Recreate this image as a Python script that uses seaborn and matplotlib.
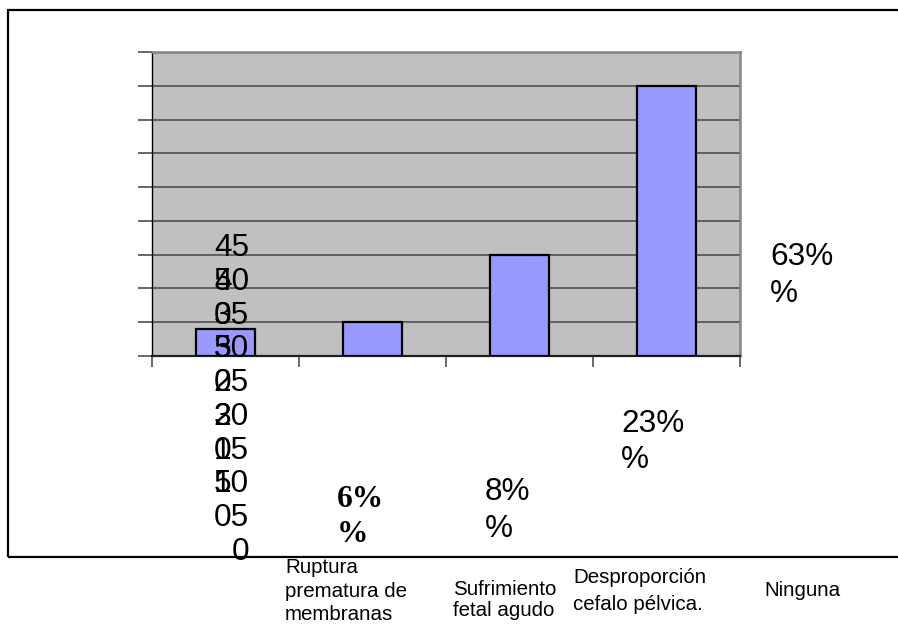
import matplotlib
matplotlib.use("Agg")
import matplotlib.pyplot as plt
from matplotlib.patches import Rectangle
from matplotlib.transforms import offset_copy
import seaborn as sns
import pandas as pd

# Data
categories = ["Ruptura prematura de membranas", "Sufrimiento fetal agudo",
              "Desproporción cefalo pélvica.", "Ninguna"]
category_lines = [["Ruptura", "prematura de", "membranas"],
                  ["Sufrimiento", "fetal agudo"],
                  ["Desproporción", "cefalo pélvica."],
                  ["Ninguna"]]
values = [4, 5, 15, 40]
pct_labels = ["6%", "8%", "23%", "63%"]
tick_values = [0, 5, 10, 15, 20, 25, 30, 35, 40, 45]
tick_labels = ["0", "05", "10", "15", "20", "25", "30", "35", "40", "45"]
tick_ghosts = ["", "", "5", "0", "3", "0", "5", "0", "5", ""]

sns.set_theme(style="white")
plt.rcParams["font.family"] = ["Liberation Sans", "DejaVu Sans"]

W, H = 898, 625
fig = plt.figure(figsize=(W / 100, H / 100), dpi=100)
fig.patch.set_facecolor("white")


def fx(px):
    return px / W


def fy(py):
    return 1 - py / H


ax = fig.add_axes([fx(152), fy(356), fx(740) - fx(152), fy(52) - fy(356)])
ax.set_facecolor("#C0C0C0")

df = pd.DataFrame({"cat": categories, "val": values})
sns.barplot(data=df, x="cat", y="val", color="#9999FF", saturation=1,
            edgecolor="black", linewidth=1.6, width=0.4, ax=ax, zorder=3)

ax.set_xlim(-0.5, len(categories) - 0.5)
ax.set_ylim(0, 45)
ax.set_xlabel("")
ax.set_ylabel("")
ax.set_yticks(tick_values)
ax.set_yticklabels([""] * len(tick_values))
ax.set_xticks([i - 0.5 for i in range(len(categories) + 1)])
ax.set_xticklabels([""] * (len(categories) + 1))
ax.tick_params(axis="y", direction="out", length=10, width=1.1,
               color="#404040", left=True)
ax.tick_params(axis="x", direction="out", length=8, width=1.1,
               color="#404040", bottom=True)
for v in tick_values[1:-1]:
    ax.axhline(v, color="#585858", linewidth=1.3, zorder=1)

for side in ["top", "right"]:
    ax.spines[side].set_color("#858585")
    ax.spines[side].set_linewidth(1.8)
ax.spines["left"].set_color("black")
ax.spines["left"].set_linewidth(1.0)
ax.spines["bottom"].set_color("#202020")
ax.spines["bottom"].set_linewidth(1.6)

# Value-axis numbers, drawn as a displaced column
label_fs = 22.7
base = offset_copy(ax.transData, fig=fig, x=0, y=-204, units="dots")
for v, lab, ghost in zip(tick_values, tick_labels, tick_ghosts):
    y_disp = ax.transData.transform((0, v))[1] - 204
    yfrac = y_disp / H
    fig.text(fx(249), yfrac, lab, ha="right", va="baseline",
             fontsize=label_fs, color="black", zorder=6)
    if ghost:
        fig.text(fx(231), yfrac, ghost, ha="right", va="baseline",
                 fontsize=label_fs, color="black", zorder=6)

# Percentage labels (two lines each)
pct_pos = [(337, 507, 542), (485, 500, 537), (621, 432, 468), (770, 265, 302)]
for i, (lab, (x0, b1, b2)) in enumerate(zip(pct_labels, pct_pos)):
    if i == 0:
        kw = dict(family=["Liberation Serif", "DejaVu Serif"], weight="bold")
    else:
        kw = dict()
    fig.text(fx(x0), fy(b1), lab, ha="left", va="baseline",
             fontsize=label_fs, color="black", **kw)
    fig.text(fx(x0), fy(b2), "%", ha="left", va="baseline",
             fontsize=label_fs, color="black", **kw)

# Category labels below the frame
cat_pos = [(285, [573, 597, 620]), (453, [595, 616]),
           (573, [583, 610]), (764, [596])]
for lines, (x0, bases) in zip(category_lines, cat_pos):
    for txt, b in zip(lines, bases):
        fig.text(fx(x0), fy(b), txt, ha="left", va="baseline",
                 fontsize=14.8, color="black")

# Outer frame
frame = Rectangle((fx(8), fy(557)), 1.05 - fx(8), fy(10) - fy(557),
                  transform=fig.transFigure, fill=False, edgecolor="black",
                  linewidth=1.6, zorder=10, clip_on=False)
fig.patches.append(frame)

fig.savefig("out.png", dpi=100)
